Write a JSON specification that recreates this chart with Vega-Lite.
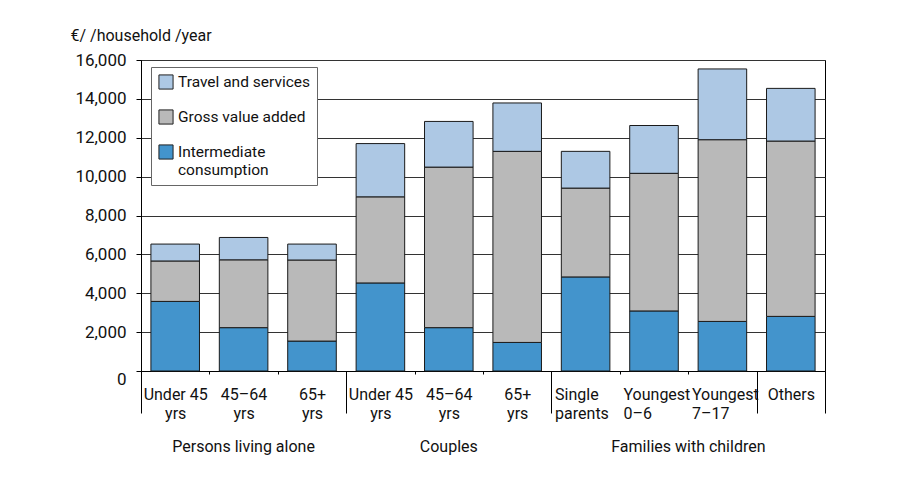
{
  "$schema": "https://vega.github.io/schema/vega-lite/v6.json",
  "autosize": {"type": "none"},
  "padding": {"left": 141, "top": 60, "right": 82, "bottom": 106},
  "width": 684,
  "height": 311,
  "background": "white",
  "config": {
    "view": {"stroke": "#000", "strokeWidth": 1},
    "font": "Roboto",
    "axis": {"labelFont": "Roboto", "titleFont": "Roboto", "labelColor": "#111", "titleColor": "#111", "domainColor": "#000", "tickColor": "#000"}
  },
  "data": {
    "values": [
      {"cat": "a|Under 45|yrs", "series": "Intermediate consumption", "rank": 1, "value": 3580},
      {"cat": "a|Under 45|yrs", "series": "Gross value added", "rank": 2, "value": 2080},
      {"cat": "a|Under 45|yrs", "series": "Travel and services", "rank": 3, "value": 870},
      {"cat": "b|45–64|yrs", "series": "Intermediate consumption", "rank": 1, "value": 2230},
      {"cat": "b|45–64|yrs", "series": "Gross value added", "rank": 2, "value": 3490},
      {"cat": "b|45–64|yrs", "series": "Travel and services", "rank": 3, "value": 1150},
      {"cat": "c|65+|yrs", "series": "Intermediate consumption", "rank": 1, "value": 1540},
      {"cat": "c|65+|yrs", "series": "Gross value added", "rank": 2, "value": 4170},
      {"cat": "c|65+|yrs", "series": "Travel and services", "rank": 3, "value": 820},
      {"cat": "d|Under 45|yrs", "series": "Intermediate consumption", "rank": 1, "value": 4530},
      {"cat": "d|Under 45|yrs", "series": "Gross value added", "rank": 2, "value": 4430},
      {"cat": "d|Under 45|yrs", "series": "Travel and services", "rank": 3, "value": 2740},
      {"cat": "e|45–64|yrs", "series": "Intermediate consumption", "rank": 1, "value": 2230},
      {"cat": "e|45–64|yrs", "series": "Gross value added", "rank": 2, "value": 8260},
      {"cat": "e|45–64|yrs", "series": "Travel and services", "rank": 3, "value": 2350},
      {"cat": "f|65+|yrs", "series": "Intermediate consumption", "rank": 1, "value": 1470},
      {"cat": "f|65+|yrs", "series": "Gross value added", "rank": 2, "value": 9830},
      {"cat": "f|65+|yrs", "series": "Travel and services", "rank": 3, "value": 2490},
      {"cat": "g|Single|parents", "series": "Intermediate consumption", "rank": 1, "value": 4840},
      {"cat": "g|Single|parents", "series": "Gross value added", "rank": 2, "value": 4570},
      {"cat": "g|Single|parents", "series": "Travel and services", "rank": 3, "value": 1890},
      {"cat": "h|Youngest|0–6", "series": "Intermediate consumption", "rank": 1, "value": 3090},
      {"cat": "h|Youngest|0–6", "series": "Gross value added", "rank": 2, "value": 7080},
      {"cat": "h|Youngest|0–6", "series": "Travel and services", "rank": 3, "value": 2460},
      {"cat": "i|Youngest|7–17", "series": "Intermediate consumption", "rank": 1, "value": 2550},
      {"cat": "i|Youngest|7–17", "series": "Gross value added", "rank": 2, "value": 9350},
      {"cat": "i|Youngest|7–17", "series": "Travel and services", "rank": 3, "value": 3640},
      {"cat": "j|Others", "series": "Intermediate consumption", "rank": 1, "value": 2810},
      {"cat": "j|Others", "series": "Gross value added", "rank": 2, "value": 9020},
      {"cat": "j|Others", "series": "Travel and services", "rank": 3, "value": 2710}
    ]
  },
  "layer": [
    {
      "mark": {"type": "bar", "stroke": "#1a1a1a", "strokeWidth": 1, "width": {"band": 0.71}},
      "encoding": {
        "x": {
          "field": "cat", "type": "nominal", "sort": null,
          "scale": {"paddingInner": 0, "paddingOuter": 0},
          "axis": {
            "orient": "bottom",
            "title": null,
            "tickBand": "extent",
            "tickSize": {"condition": {"test": "indexof('abdegh', substring(datum.value + '', 0, 1)) < 0", "value": 42}, "value": 3},
            "tickColor": "#000",
            "labelExpr": "slice(split(datum.label, '|'), 1)",
            "labelAngle": 0,
            "labelFontSize": 16,
            "labelLineHeight": 19,
            "labelPadding": {"condition": {"test": "indexof('abdegh', substring(datum.value + '', 0, 1)) < 0", "value": -27}, "value": 12},
            "labelAlign": {"condition": {"test": "indexof('ghi', substring(datum.value + '', 0, 1)) >= 0", "value": "left"}, "value": "center"},
            "labelOffset": {"condition": {"test": "indexof('ghi', substring(datum.value + '', 0, 1)) >= 0", "value": -31}, "value": 0},
            "labelBaseline": "top",
            "labelLimit": 200
          }
        },
        "y": {
          "aggregate": "sum", "field": "value", "type": "quantitative", "stack": "zero",
          "scale": {"domain": [0, 16000], "nice": false},
          "axis": {
            "title": "€/ /household /year",
            "titleAngle": 0, "titleAlign": "left", "titleBaseline": "alphabetic",
            "titleX": -71, "titleY": -20, "titleFontSize": 16, "titleFontWeight": "normal",
            "values": [0, 2000, 4000, 6000, 8000, 10000, 12000, 14000, 16000],
            "format": ",.0f",
            "labelFontSize": 17,
            "labelPadding": 10,
            "tickSize": 5,
            "labelBaseline": {"condition": {"test": "datum.value == 0", "value": "top"}, "value": "middle"},
            "grid": true, "gridColor": "#333", "gridWidth": 1
          }
        },
        "color": {
          "field": "series", "type": "nominal",
          "scale": {
            "domain": ["Travel and services", "Gross value added", "Intermediate consumption"],
            "range": ["#adc8e4", "#b9b9b9", "#4394cc"]
          },
          "legend": {
            "title": null,
            "orient": "none", "legendX": 10, "legendY": 7,
            "fillColor": "white", "strokeColor": "#666", "padding": 7,
            "symbolType": "square", "symbolSize": 200, "symbolStrokeColor": "#222", "symbolStrokeWidth": 1,
            "labelFont": "Roboto", "labelFontSize": 15.5, "labelColor": "#111", "labelLimit": 300,
            "labelExpr": "datum.label == 'Intermediate consumption' ? ['Intermediate', 'consumption'] : datum.label",
            "rowPadding": 15, "labelOffset": 4
          }
        },
        "order": {"field": "rank", "type": "quantitative"}
      }
    },
    {
      "mark": {"type": "text", "text": ""},
      "encoding": {
        "x": {
          "field": "cat", "type": "nominal", "sort": null,
          "axis": {
            "orient": "bottom",
            "title": null,
            "values": ["b|45–64|yrs", "e|45–64|yrs", "i|Youngest|7–17"],
            "labelExpr": "substring(datum.value + '', 0, 1) == 'b' ? 'Persons living alone' : substring(datum.value + '', 0, 1) == 'e' ? 'Couples' : 'Families with children'",
            "labelOffset": {"condition": {"test": "substring(datum.value + '', 0, 1) == 'i'", "value": -34}, "value": 0},
            "ticks": false, "domain": false, "grid": false,
            "labelAngle": 0, "labelFontSize": 16, "labelBaseline": "top",
            "labelPadding": 67, "labelLimit": 300
          }
        }
      }
    }
  ],
  "resolve": {"axis": {"x": "independent"}}
}
